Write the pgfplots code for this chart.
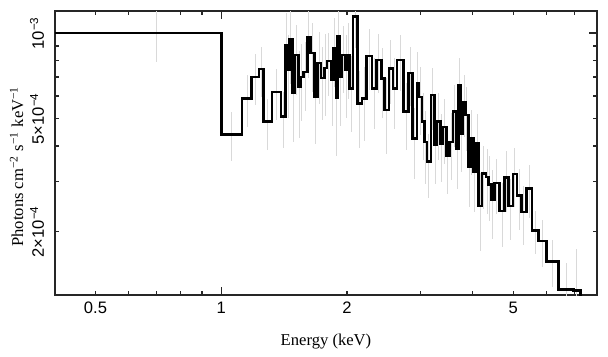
\documentclass[border=0pt]{standalone}
\usepackage{fontspec}
\setmainfont{Liberation Serif}
\newfontfamily\tickfont{Liberation Sans}
\usepackage{pgfplots}
\usepackage{pgfplotstable}
\pgfplotsset{compat=1.18}

% histogram: left edge of bin (keV), value (photons cm^-2 s^-1 keV^-1)
\pgfplotstableread{
xl v
0.4 1.000e-3
1.0000 4.39e-4
1.1226 5.88e-4
1.1831 7.01e-4
1.2309 7.46e-4
1.2640 4.87e-4
1.3225 6.19e-4
1.3900 5.07e-4
1.4233 9.07e-4
1.4431 7.40e-4
1.4591 9.50e-4
1.4794 6.14e-4
1.4983 8.36e-4
1.5317 6.46e-4
1.5461 7.01e-4
1.5745 7.30e-4
1.6096 9.62e-4
1.6337 8.50e-4
1.6702 5.96e-4
1.7009 7.84e-4
1.7331 6.94e-4
1.7649 7.52e-4
1.7914 7.98e-4
1.8313 6.82e-4
1.8547 8.85e-4
1.8856 5.90e-4
1.8992 9.70e-4
1.9202 7.01e-4
1.9458 8.36e-4
1.9815 7.40e-4
2.0034 8.36e-4
2.0290 6.38e-4
2.0674 1.142e-3
2.1205 5.65e-4
2.1725 5.88e-4
2.2246 8.30e-4
2.2957 6.38e-4
2.3508 8.03e-4
2.4165 6.92e-4
2.4609 5.35e-4
2.5213 7.51e-4
2.5775 6.38e-4
2.6350 8.03e-4
2.7327 5.28e-4
2.8092 7.24e-4
2.8671 4.25e-4
2.9424 6.64e-4
2.9685 5.96e-4
3.0247 4.87e-4
3.0633 4.13e-4
3.1092 3.52e-4
3.1786 6.04e-4
3.2369 4.03e-4
3.2854 4.87e-4
3.3459 4.08e-4
3.3960 4.67e-4
3.4585 3.71e-4
3.5221 4.13e-4
3.5887 5.28e-4
3.6547 3.92e-4
3.6952 6.55e-4
3.7362 4.43e-4
3.7922 5.72e-4
3.8407 5.14e-4
3.9048 3.38e-4
3.9481 4.25e-4
4.0130 3.24e-4
4.0797 4.08e-4
4.1331 2.46e-4
4.2113 3.20e-4
4.3005 3.11e-4
4.3602 2.93e-4
4.4329 2.58e-4
4.5069 2.96e-4
4.6404 2.36e-4
4.7701 3.10e-4
4.8684 2.46e-4
4.9950 3.19e-4
5.1076 2.68e-4
5.2373 2.34e-4
5.3748 2.83e-4
5.5469 2.02e-4
5.7588 1.85e-4
6.0115 1.57e-4
6.4226 1.25e-4
6.9772 1.24e-4
7.2390 5e-5
}\spec

% error bars: bin centre, value, 1-sigma
\pgfplotstableread{
c v s
0.7000 1.000e-3 2.1e-4
1.0613 4.39e-4 0.86e-4
1.1529 5.88e-4 1.22e-4
1.2070 7.01e-4 1.45e-4
1.2475 7.46e-4 1.50e-4
1.2933 4.87e-4 1.00e-4
1.3563 6.19e-4 1.25e-4
1.4067 5.07e-4 1.15e-4
1.4332 9.07e-4 2.7e-4
1.4511 7.40e-4 2.4e-4
1.4693 9.50e-4 2.9e-4
1.4889 6.14e-4 2.0e-4
1.5150 8.36e-4 2.3e-4
1.5389 6.46e-4 2.2e-4
1.5603 7.01e-4 2.1e-4
1.5921 7.30e-4 2.0e-4
1.6217 9.62e-4 2.7e-4
1.6520 8.50e-4 2.3e-4
1.6856 5.96e-4 1.9e-4
1.7170 7.84e-4 2.2e-4
1.7490 6.94e-4 2.0e-4
1.7782 7.52e-4 2.4e-4
1.8114 7.98e-4 2.0e-4
1.8430 6.82e-4 2.1e-4
1.8702 8.85e-4 2.4e-4
1.8924 5.90e-4 2.2e-4
1.9097 9.70e-4 2.8e-4
1.9330 7.01e-4 2.3e-4
1.9637 8.36e-4 2.2e-4
1.9925 7.40e-4 2.4e-4
2.0162 8.36e-4 2.5e-4
2.0482 6.38e-4 1.9e-4
2.0940 1.142e-3 2.6e-4
2.1465 5.65e-4 1.7e-4
2.1986 5.88e-4 1.7e-4
2.2602 8.30e-4 2.0e-4
2.3233 6.38e-4 1.8e-4
2.3837 8.03e-4 1.9e-4
2.4387 6.92e-4 1.9e-4
2.4911 5.35e-4 1.6e-4
2.5494 7.51e-4 1.9e-4
2.6063 6.38e-4 1.8e-4
2.6839 8.03e-4 1.8e-4
2.7710 5.28e-4 1.4e-4
2.8382 7.24e-4 1.7e-4
2.9048 4.25e-4 1.2e-4
2.9555 6.64e-4 1.9e-4
2.9966 5.96e-4 1.6e-4
3.0440 4.87e-4 1.3e-4
3.0863 4.13e-4 1.2e-4
3.1439 3.52e-4 0.9e-4
3.2078 6.04e-4 1.5e-4
3.2612 4.03e-4 1.1e-4
3.3157 4.87e-4 1.3e-4
3.3710 4.08e-4 1.1e-4
3.4273 4.67e-4 1.2e-4
3.4903 3.71e-4 1.0e-4
3.5554 4.13e-4 1.1e-4
3.6217 5.28e-4 1.3e-4
3.6750 3.92e-4 1.1e-4
3.7157 6.55e-4 1.6e-4
3.7642 4.43e-4 1.2e-4
3.8165 5.72e-4 1.4e-4
3.8728 5.14e-4 1.3e-4
3.9265 3.38e-4 0.95e-4
3.9806 4.25e-4 1.1e-4
4.0464 3.24e-4 0.9e-4
4.1064 4.08e-4 1.1e-4
4.1722 2.46e-4 0.75e-4
4.2559 3.20e-4 0.8e-4
4.3304 3.11e-4 0.8e-4
4.3966 2.93e-4 0.75e-4
4.4699 2.58e-4 0.7e-4
4.5737 2.96e-4 0.65e-4
4.7053 2.36e-4 0.6e-4
4.8193 3.10e-4 0.75e-4
4.9317 2.46e-4 0.6e-4
5.0513 3.19e-4 0.75e-4
5.1725 2.68e-4 0.65e-4
5.3061 2.34e-4 0.55e-4
5.4609 2.83e-4 0.6e-4
5.6529 2.02e-4 0.35e-4
5.8852 1.85e-4 0.35e-4
6.2171 1.57e-4 0.3e-4
6.6999 1.25e-4 0.3e-4
7.1081 1.24e-4 0.5e-4
}\errs

\begin{document}
\begin{tikzpicture}
\begin{axis}[
  scale only axis,
  width=271pt, height=142pt,
  xmode=log, ymode=log,
  xmin=0.4, xmax=7.94,
  ymin=1.195e-4, ymax=1.195e-3,
  axis line style={line width=0.9pt, black!85},
  every tick/.style={line width=0.6pt, black!85},
  tick align=inside,
  xtick pos=both, ytick pos=both,
  major tick length=2pt, minor tick length=2pt,
  xtick={0.5,2,5},
  xticklabels={0.5,2,5},
  minor xtick={0.6,0.7,0.8,0.9,3,4,6,7},
  extra x ticks={1},
  extra x tick labels={1},
  extra x tick style={major tick length=4pt},
  ytick={2e-4,5e-4},
  yticklabels={{2×10\textsuperscript{−4}},{5×10\textsuperscript{−4}}},
  minor ytick={3e-4,4e-4,6e-4,7e-4,8e-4,9e-4},
  extra y ticks={1e-3},
  extra y tick labels={{10\textsuperscript{−3}}},
  extra y tick style={major tick length=4pt},
  tick label style={font=\tickfont\fontsize{8.3}{10}\selectfont},
  yticklabel style={rotate=90, anchor=south, yshift=2pt},
  label style={font=\fontsize{8.3}{10}\selectfont},
  xlabel={Energy (keV)},
  ylabel={Photons cm\textsuperscript{−2} s\textsuperscript{−1} keV\textsuperscript{−1}},
  xlabel style={yshift=-3pt},
  ylabel style={at={(axis description cs:-0.0452,0.4525)}, anchor=south},
  clip=true,
]
\addplot[forget plot, draw=none, mark=none,
  error bars/.cd, y dir=both, y explicit, error mark=none,
  error bar style={draw=black!15, line width=0.5pt, solid}]
  table[x=c, y=v, y error=s] {\errs};
\addplot[const plot mark left, draw=black, line width=1.3pt, mark=none, line join=miter]
  table[x=xl, y=v] {\spec};
\end{axis}
\pgfresetboundingbox
\path[use as bounding box] ([shift={(-27.5pt,-31pt)}]current axis.south west) rectangle ([shift={(5.5pt,5.5pt)}]current axis.north east);
\end{tikzpicture}
\end{document}
